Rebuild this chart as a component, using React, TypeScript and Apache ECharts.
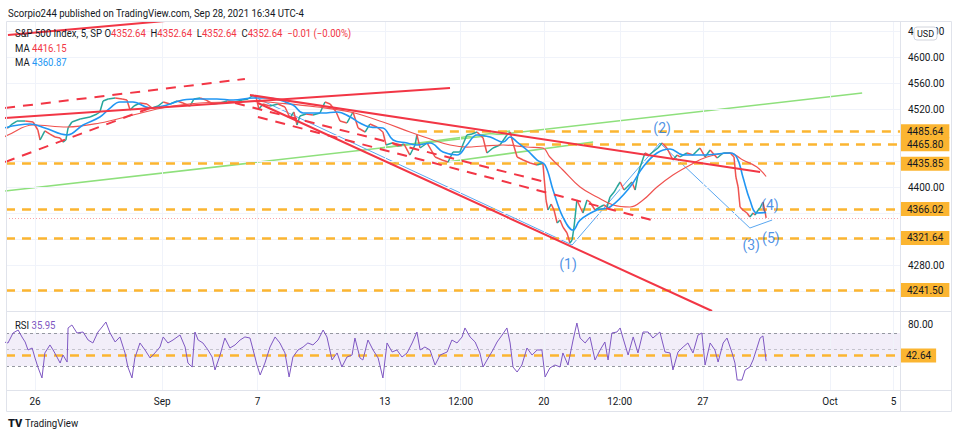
import React, { useEffect, useRef } from 'react';
import * as echarts from 'echarts';

const FONT = 'Roboto, "Liberation Sans", sans-serif';
const RED = '#f23645';
const AMBER = '#fbb531';
const GREEN = '#8ee07c';
const BLUE = '#2196f3';
const PURPLE = '#7e57c2';
const TEXT = '#131722';

// time axis: trading days counted from Aug 26 open
const X_MIN = -0.912;
const X_MAX = 27.2;
const Y_MIN = 4209.23;
const Y_MAX = 4653.85;
const R_MIN = 0.91;
const R_MAX = 95.45;

const timeTicks = [0, 4, 7, 11, 13.385, 16, 18.385, 21, 25, 27];
const timeLabels = ['26', 'Sep', '7', '13', '12:00', '20', '12:00', '27', 'Oct', '5'];
const priceTicks = [4640, 4600, 4560, 4520, 4400, 4280];
const priceGrid = [4640, 4600, 4560, 4520, 4480, 4440, 4400, 4360, 4320, 4280, 4240];
const rsiTicks = [80];

const priceData: number[][] = [
  [-0.97, 4492.3], [-0.85, 4490.8], [-0.72, 4496.9], [-0.57, 4501.5], [-0.31, 4501.5], [-0.06, 4500.0],
  [0.09, 4487.7], [0.16, 4472.3], [0.31, 4486.2], [0.47, 4481.5], [0.63, 4476.9], [0.79, 4475.4],
  [0.88, 4469.2], [0.97, 4472.3], [1.04, 4490.8], [1.16, 4500.0], [1.42, 4504.6], [1.73, 4507.7],
  [1.95, 4512.3], [2.04, 4515.4], [2.14, 4532.3], [2.30, 4535.4], [2.52, 4536.9], [2.74, 4535.4],
  [2.89, 4533.8], [2.99, 4518.5], [3.11, 4524.6], [3.30, 4529.2], [3.52, 4527.7], [3.68, 4521.5],
  [3.87, 4524.6], [4.03, 4530.8], [4.25, 4527.7], [4.47, 4532.3], [4.65, 4529.2], [4.87, 4524.6],
  [5.00, 4535.4], [5.19, 4536.9], [5.38, 4533.8], [5.60, 4527.7], [5.82, 4529.2], [6.04, 4532.3],
  [6.29, 4530.8], [6.51, 4533.8], [6.70, 4535.4], [6.86, 4541.5], [6.95, 4538.5], [7.04, 4520.0],
  [7.17, 4527.7], [7.39, 4524.6], [7.64, 4527.7], [7.86, 4523.1], [8.02, 4506.2], [8.14, 4515.4],
  [8.24, 4495.4], [8.33, 4509.2], [8.52, 4512.3], [8.74, 4510.8], [8.96, 4513.8], [9.12, 4530.8],
  [9.28, 4527.7], [9.47, 4515.4], [9.59, 4501.5], [9.81, 4498.5], [10.00, 4515.4], [10.16, 4490.8],
  [10.38, 4484.6], [10.53, 4496.9], [10.75, 4492.3], [10.94, 4484.6], [11.04, 4464.6], [11.23, 4467.7],
  [11.42, 4463.1], [11.60, 4466.2], [11.79, 4449.2], [11.95, 4464.6], [12.01, 4480.0], [12.11, 4460.0],
  [12.33, 4467.7], [12.58, 4446.2], [12.80, 4441.5], [12.99, 4438.5], [13.14, 4453.8], [13.36, 4453.8],
  [13.58, 4480.0], [13.74, 4481.5], [13.90, 4484.6], [14.09, 4475.4], [14.21, 4452.3], [14.40, 4460.0],
  [14.62, 4464.6], [14.84, 4480.0], [14.94, 4484.6], [15.03, 4467.7], [15.16, 4446.2], [15.35, 4441.5],
  [15.57, 4436.9], [15.79, 4433.8], [15.97, 4436.9], [16.07, 4380.0], [16.13, 4364.6], [16.23, 4373.8],
  [16.32, 4364.6], [16.42, 4344.6], [16.51, 4349.2], [16.60, 4338.5], [16.73, 4329.2], [16.82, 4313.8],
  [16.89, 4318.5], [16.95, 4338.5], [17.04, 4380.0], [17.14, 4369.2], [17.23, 4360.0], [17.36, 4380.0],
  [17.45, 4376.9], [17.61, 4364.6], [17.77, 4369.2], [17.89, 4372.3], [17.99, 4369.2], [18.08, 4384.6],
  [18.21, 4392.3], [18.30, 4400.0], [18.40, 4407.7], [18.52, 4395.4], [18.62, 4400.0], [18.77, 4407.7],
  [18.87, 4395.4], [18.96, 4418.5], [19.03, 4430.8], [19.18, 4452.3], [19.31, 4449.2], [19.43, 4453.8],
  [19.59, 4460.0], [19.72, 4467.7], [19.87, 4460.0], [20.06, 4441.5], [20.19, 4449.2], [20.28, 4446.2],
  [20.50, 4452.3], [20.69, 4449.2], [20.91, 4460.0], [21.07, 4446.2], [21.23, 4456.9], [21.45, 4444.6],
  [21.64, 4452.3], [21.86, 4452.3], [21.98, 4446.2], [22.04, 4415.4], [22.11, 4400.0], [22.17, 4369.2],
  [22.26, 4364.6], [22.39, 4360.0], [22.48, 4353.8], [22.58, 4360.0], [22.64, 4356.9], [22.74, 4364.6],
  [22.80, 4367.7], [22.89, 4376.9], [22.96, 4361.5], [22.99, 4352.64],
];

const maFast: number[][] = [
  [-0.97, 4490.8], [-0.16, 4496.9], [0.31, 4490.8], [1.01, 4480.0], [1.51, 4495.4], [2.04, 4507.7],
  [2.36, 4521.5], [2.67, 4530.8], [3.08, 4530.8], [3.62, 4521.5], [4.15, 4526.2], [4.65, 4533.8],
  [5.19, 4535.4], [5.72, 4535.4], [6.23, 4533.8], [6.86, 4536.9], [7.30, 4536.9], [8.11, 4526.2],
  [8.43, 4513.8], [9.06, 4513.8], [9.50, 4515.4], [9.91, 4507.7], [10.22, 4498.5], [10.53, 4492.3],
  [10.94, 4490.8], [11.26, 4472.3], [11.70, 4467.7], [12.01, 4464.6], [12.42, 4467.7], [12.83, 4453.8],
  [13.27, 4449.2], [13.58, 4464.6], [13.90, 4480.0], [14.31, 4476.9], [14.72, 4469.2], [14.94, 4476.9],
  [15.16, 4469.2], [15.47, 4456.9], [15.79, 4441.5], [16.04, 4433.8], [16.29, 4395.4], [16.60, 4353.8],
  [16.92, 4333.8], [17.14, 4349.2], [17.67, 4364.6], [18.08, 4369.2], [18.71, 4400.0], [19.12, 4430.8],
  [19.56, 4452.3], [19.97, 4458.5], [20.38, 4449.2], [21.01, 4449.2], [21.86, 4452.3], [22.08, 4444.6],
  [22.26, 4415.4], [22.48, 4380.0], [22.70, 4360.0], [22.99, 4360.87],
];

const maSlow: number[][] = [
  [-0.97, 4476.9], [-0.85, 4480.0], [-0.06, 4495.4], [1.01, 4492.3], [2.04, 4498.5], [3.08, 4510.8],
  [4.15, 4523.1], [5.19, 4529.2], [6.23, 4530.8], [6.98, 4532.3], [7.30, 4530.8], [8.87, 4523.1],
  [9.91, 4515.4], [10.94, 4500.0], [11.79, 4484.6], [12.52, 4472.3], [13.05, 4464.6], [13.58, 4461.5],
  [14.09, 4463.1], [14.72, 4464.6], [15.47, 4461.5], [15.97, 4460.0], [16.19, 4446.2], [16.60, 4426.2],
  [17.14, 4400.0], [17.67, 4384.6], [18.18, 4372.3], [18.71, 4369.2], [19.12, 4380.0], [19.56, 4400.0],
  [20.06, 4418.5], [20.60, 4433.8], [21.13, 4446.2], [21.86, 4452.3], [22.26, 4441.5], [22.70, 4430.8],
  [22.99, 4416.15],
];

const rsiData: number[][] = [
  [-0.97, 59.1], [-0.85, 57.9], [-0.69, 70.0], [-0.53, 73.6], [-0.41, 65.2], [-0.31, 59.1], [-0.22, 49.4],
  [-0.09, 51.8], [0.00, 39.7], [0.09, 28.8], [0.22, 15.5], [0.31, 45.8], [0.47, 55.5], [0.57, 49.4],
  [0.69, 40.9], [0.79, 33.6], [0.88, 43.3], [1.01, 34.8], [1.04, 76.1], [1.16, 79.7], [1.32, 70.0],
  [1.51, 71.2], [1.67, 61.5], [1.82, 57.9], [1.98, 71.2], [2.11, 77.3], [2.23, 83.3], [2.36, 70.0],
  [2.52, 59.1], [2.67, 65.2], [2.83, 45.8], [2.92, 28.8], [3.05, 15.5], [3.14, 39.7], [3.30, 57.9],
  [3.46, 49.4], [3.62, 39.7], [3.77, 45.8], [3.93, 53.0], [4.03, 65.2], [4.18, 57.9], [4.34, 61.5],
  [4.56, 67.6], [4.72, 53.0], [4.81, 33.6], [4.94, 28.8], [5.03, 71.2], [5.13, 61.5], [5.28, 57.9],
  [5.44, 49.4], [5.57, 40.9], [5.66, 25.2], [5.82, 43.3], [5.97, 63.9], [6.13, 51.8], [6.29, 55.5],
  [6.45, 61.5], [6.60, 65.2], [6.76, 63.9], [6.86, 49.4], [6.98, 31.2], [7.08, 19.1], [7.23, 33.6],
  [7.39, 53.0], [7.55, 65.2], [7.70, 57.9], [7.86, 45.8], [7.99, 16.7], [8.11, 40.9], [8.27, 49.4],
  [8.43, 53.0], [8.58, 57.9], [8.74, 55.5], [8.90, 61.5], [9.06, 73.6], [9.18, 65.2], [9.34, 37.3],
  [9.50, 45.8], [9.65, 28.8], [9.81, 40.9], [9.97, 43.3], [10.06, 63.9], [10.22, 39.7], [10.31, 37.3],
  [10.47, 61.5], [10.63, 49.4], [10.79, 39.7], [10.94, 15.5], [11.07, 57.9], [11.23, 47.0], [11.38, 49.4],
  [11.54, 40.9], [11.70, 45.8], [11.86, 57.9], [12.01, 71.2], [12.11, 49.4], [12.26, 53.0], [12.42, 49.4],
  [12.58, 31.2], [12.74, 43.3], [12.96, 47.0], [13.11, 61.5], [13.27, 57.9], [13.43, 65.2], [13.52, 76.1],
  [13.68, 65.2], [13.84, 59.1], [13.99, 45.8], [14.09, 28.8], [14.25, 39.7], [14.40, 49.4], [14.53, 59.1],
  [14.69, 67.6], [14.84, 76.1], [14.94, 57.9], [15.03, 28.8], [15.16, 22.7], [15.31, 31.2], [15.47, 51.8],
  [15.63, 43.3], [15.79, 49.4], [15.94, 49.4], [16.04, 16.7], [16.19, 27.6], [16.35, 31.2], [16.51, 28.8],
  [16.60, 45.8], [16.76, 31.2], [16.92, 61.5], [17.04, 82.1], [17.14, 63.9], [17.30, 57.9], [17.45, 65.2],
  [17.61, 37.3], [17.77, 49.4], [17.92, 59.1], [18.02, 37.3], [18.14, 70.0], [18.30, 71.2], [18.40, 76.1],
  [18.49, 63.9], [18.65, 43.3], [18.81, 65.2], [18.96, 45.8], [19.12, 71.2], [19.28, 71.2], [19.43, 63.9],
  [19.65, 71.2], [19.81, 47.0], [19.97, 45.8], [20.06, 25.2], [20.22, 47.0], [20.38, 53.0], [20.53, 57.9],
  [20.69, 45.8], [20.85, 67.6], [20.97, 70.0], [21.07, 31.2], [21.23, 57.9], [21.38, 49.4], [21.48, 34.8],
  [21.64, 57.9], [21.76, 63.9], [21.92, 45.8], [22.01, 33.6], [22.08, 13.0], [22.23, 13.0], [22.33, 25.2],
  [22.48, 28.8], [22.58, 37.3], [22.70, 51.8], [22.80, 63.9], [22.89, 66.4], [22.96, 45.8], [22.99, 35.95],
];

const redSolidLines = [
  [[-0.85, 4633.8], [4.09, 4655.4]],
  [[-0.97, 4506.2], [13.05, 4552.3]],
  [[6.76, 4541.5], [22.8, 4423.1]],
  [[7.01, 4529.2], [21.29, 4209.2]],
];
const redDashedLines = [
  [[-0.94, 4521.5], [6.6, 4566.2]],
  [[-0.94, 4438.5], [3.62, 4521.5]],
  [[6.29, 4529.2], [16.04, 4407.7]],
  [[7.01, 4507.7], [19.5, 4347.7]],
];
const greenLines = [
  [[-0.94, 4393.8], [26.01, 4544.6]],
  [[10.85, 4460.0], [14.94, 4486.2]],
  [[12.96, 4438.5], [17.55, 4469.2]],
];
const waveLine = [[6.76, 4541.5], [16.89, 4310.8], [19.65, 4467.7], [22.48, 4336.9], [23.18, 4349.2]];
const waveLabels = ['(1)', '(2)', '(3)', '(4)', '(5)'];
const waveLabelAt = [[16.76, 4281.5], [19.72, 4490.8], [22.52, 4310.8], [23.11, 4372.3], [23.14, 4321.5]];

const levelPrices = [4485.64, 4465.8, 4435.85, 4366.02, 4321.64, 4241.5];
const levelStarts = [12.04, 15.25, X_MIN, X_MIN, X_MIN, X_MIN];
const rsiLevel = 42.64;
const lastPrice = 4352.64;

const lineSeries = (data: number[][], color: string, width: number, type: any, z: number, xi = 0) => ({
  type: 'line',
  xAxisIndex: xi,
  yAxisIndex: xi,
  data,
  showSymbol: false,
  symbol: 'none',
  silent: true,
  z,
  lineStyle: { color, width, type },
});

const richText = (x: number, y: number, text: string, rich: any, scaleX = 0.91) => ({
  type: 'text', silent: true, z: 100, x, y, scaleX,
  style: {
    text, font: `10.5px ${FONT}`, fill: TEXT, verticalAlign: 'middle', textVerticalAlign: 'middle',
    rich,
  },
});

function buildOption(): any {
  const series: any[] = [];
  series.push({
    type: 'line', xAxisIndex: 0, yAxisIndex: 0, data: [], silent: true, z: 1, clip: false,
    markLine: {
      silent: true, symbol: 'none', label: { show: false },
      lineStyle: { color: '#f0f3fa', width: 1, type: 'solid' },
      data: [...timeTicks.map((t) => ({ xAxis: t })), ...priceGrid.map((p) => ({ yAxis: p }))],
    },
  });
  series.push({
    type: 'line', xAxisIndex: 1, yAxisIndex: 1, data: [], silent: true, z: 1, clip: false,
    markLine: {
      silent: true, symbol: 'none', label: { show: false },
      lineStyle: { color: '#f0f3fa', width: 1, type: 'solid' },
      data: timeTicks.map((t) => ({ xAxis: t })),
    },
  });
  series.push({
    type: 'line', xAxisIndex: 0, yAxisIndex: 0, data: [], silent: true, z: 3, clip: false,
    markLine: {
      silent: true, symbol: 'none',
      lineStyle: { color: AMBER, width: 2.5, type: [9, 7] },
      data: levelPrices.map((p, i) => [
        {
          coord: [levelStarts[i], p],
          label: {
            show: true, position: 'end', distance: 1, formatter: p.toFixed(2),
            backgroundColor: AMBER, color: TEXT, fontSize: 10, fontFamily: FONT, padding: [2, 6, 2, 6],
          },
        },
        { coord: [X_MAX, p] },
      ]),
    },
  });
  series.push({
    type: 'line', xAxisIndex: 0, yAxisIndex: 0, data: [], silent: true, z: 2, clip: false,
    markLine: {
      silent: true, symbol: 'none', label: { show: false },
      lineStyle: { color: 'rgba(242,54,69,0.45)', width: 1, type: [1, 2] },
      data: [{ yAxis: lastPrice }],
    },
  });
  greenLines.forEach((seg) => series.push(lineSeries(seg, GREEN, 1.6, 'solid', 4)));
  series.push(lineSeries(waveLine, '#5aa7f0', 1, 'solid', 4));
  series.push({
    type: 'custom', xAxisIndex: 0, yAxisIndex: 0, data: priceData, clip: true, silent: true, z: 5,
    renderItem: (params: any, api: any) => {
      const i = params.dataIndex;
      if (i === 0) return null;
      const a = api.coord(priceData[i - 1]);
      const b = api.coord([api.value(0), api.value(1)]);
      const up = priceData[i][1] >= priceData[i - 1][1];
      return {
        type: 'line',
        shape: { x1: a[0], y1: a[1], x2: b[0], y2: b[1] },
        style: { stroke: up ? '#26a69a' : '#ef5350', lineWidth: 1.5 },
      };
    },
  });
  series.push({ ...lineSeries(maSlow, '#ef5350', 1.2, 'solid', 6), smooth: 0.4 });
  series.push({ ...lineSeries(maFast, BLUE, 1.6, 'solid', 6), smooth: 0.4 });
  redDashedLines.forEach((seg) => series.push(lineSeries(seg, RED, 2, [10, 8], 7)));
  redSolidLines.forEach((seg) => series.push(lineSeries(seg, RED, 2, 'solid', 7)));
  series.push({
    type: 'scatter', xAxisIndex: 0, yAxisIndex: 0, silent: true, z: 8,
    symbolSize: 1, itemStyle: { color: 'rgba(0,0,0,0)' },
    data: waveLabels.map((n, i) => ({ name: n, value: waveLabelAt[i] })),
    label: { show: true, position: 'inside', formatter: (p: any) => p.name, color: '#1f78de', fontSize: 14, fontFamily: FONT },
  });
  series.push({
    type: 'line', xAxisIndex: 1, yAxisIndex: 1, data: [], silent: true, z: 2, clip: false,
    markArea: {
      silent: true, itemStyle: { color: 'rgba(126,87,194,0.1)' },
      data: [[{ yAxis: 70 }, { yAxis: 30 }]],
    },
    markLine: {
      silent: true, symbol: 'none', label: { show: false },
      data: [
        { yAxis: 70, lineStyle: { color: '#9598a1', width: 1, type: [3, 3] } },
        { yAxis: 30, lineStyle: { color: '#9598a1', width: 1, type: [3, 3] } },
        { yAxis: 50, lineStyle: { color: 'rgba(149,152,161,0.5)', width: 1, type: [3, 3] } },
        {
          yAxis: rsiLevel,
          lineStyle: { color: AMBER, width: 2.5, type: [9, 7] },
          label: {
            show: true, position: 'end', distance: 1, formatter: rsiLevel.toFixed(2),
            backgroundColor: AMBER, color: TEXT, fontSize: 10, fontFamily: FONT, padding: [2, 5, 2, 5],
          },
        },
      ],
    },
  });
  series.push(lineSeries(rsiData, PURPLE, 1, 'solid', 5, 1));

  const rd = { fill: TEXT, font: `10.5px ${FONT}` };
  const graphic: any[] = [
    { type: 'rect', silent: true, z: 100, shape: { x: 6.5, y: 21.5, width: 945, height: 390 }, style: { fill: 'none', stroke: '#e0e3eb', lineWidth: 1 } },
    { type: 'line', silent: true, z: 100, shape: { x1: 900.5, y1: 22, x2: 900.5, y2: 412 }, style: { stroke: '#e0e3eb', lineWidth: 1 } },
    { type: 'line', silent: true, z: 100, shape: { x1: 6, y1: 311.5, x2: 952, y2: 311.5 }, style: { stroke: '#e0e3eb', lineWidth: 1 } },
    { type: 'line', silent: true, z: 100, shape: { x1: 6, y1: 390.5, x2: 952, y2: 390.5 }, style: { stroke: '#e0e3eb', lineWidth: 1 } },
    {
      type: 'text', silent: true, z: 100, x: 8, y: 13, scaleX: 0.915,
      style: { text: 'Scorpio244 published on TradingView.com, Sep 28, 2021 16:34 UTC-4', fill: TEXT, font: `10.5px ${FONT}`, verticalAlign: 'middle', textVerticalAlign: 'middle' },
    },
    richText(15, 33,
      '{d|S&P 500 Index, 5, SP} {d|O}{r|4352.64}  {d|H}{r|4352.64}  {d|L}{r|4352.64}  {d|C}{r|4352.64}  {r|−0.01 (−0.00%)}',
      { d: rd, r: { fill: RED, font: `10.5px ${FONT}` } }),
    richText(15, 48, '{d|MA} {r|4416.15}', { d: rd, r: { fill: RED, font: `10.5px ${FONT}` } }),
    richText(15, 62, '{d|MA} {b|4360.87}', { d: rd, b: { fill: BLUE, font: `10.5px ${FONT}` } }),
    richText(15, 325, '{d|RSI} {p|35.95}', { d: rd, p: { fill: PURPLE, font: `10.5px ${FONT}` } }),
    { type: 'rect', silent: true, z: 100, shape: { x: 914, y: 27, width: 23, height: 13, r: 3 }, style: { fill: '#fff', stroke: '#d1d4dc', lineWidth: 1 } },
    {
      type: 'text', silent: true, z: 101, x: 925.5, y: 33.5,
      style: { text: 'USD', fill: TEXT, font: `9px ${FONT}`, align: 'center', textAlign: 'center', verticalAlign: 'middle', textVerticalAlign: 'middle' },
    },
    {
      type: 'text', silent: true, z: 100, x: 8, y: 423,
      style: { text: 'TV', fill: TEXT, font: `900 11px ${FONT}`, verticalAlign: 'middle', textVerticalAlign: 'middle' },
    },
    {
      type: 'text', silent: true, z: 100, x: 25, y: 423, scaleX: 0.92,
      style: { text: 'TradingView', fill: TEXT, font: `10.5px ${FONT}`, verticalAlign: 'middle', textVerticalAlign: 'middle' },
    },
  ];

  const axisLabelBase = { color: TEXT, fontSize: 10, fontFamily: FONT };

  return {
    animation: false,
    backgroundColor: '#ffffff',
    textStyle: { fontFamily: FONT },
    grid: [
      { left: 6, top: 22, width: 894, height: 289 },
      { left: 6, top: 312, width: 894, height: 78 },
    ],
    xAxis: [
      { gridIndex: 0, type: 'value', min: X_MIN, max: X_MAX, show: false },
      {
        gridIndex: 1, type: 'value', min: X_MIN, max: X_MAX,
        axisLine: { show: false }, axisTick: { show: false }, splitLine: { show: false },
        axisLabel: {
          ...axisLabelBase, margin: 6, customValues: timeTicks,
          formatter: (v: number) => {
            const i = timeTicks.findIndex((t) => Math.abs(t - v) < 1e-6);
            return i >= 0 ? timeLabels[i] : '';
          },
        },
      },
    ],
    yAxis: [
      {
        gridIndex: 0, type: 'value', position: 'right', min: Y_MIN, max: Y_MAX,
        axisLine: { show: false }, axisTick: { show: false }, splitLine: { show: false },
        axisLabel: { ...axisLabelBase, margin: 8, customValues: priceTicks, formatter: (v: number) => v.toFixed(2) },
      },
      {
        gridIndex: 1, type: 'value', position: 'right', min: R_MIN, max: R_MAX,
        axisLine: { show: false }, axisTick: { show: false }, splitLine: { show: false },
        axisLabel: { ...axisLabelBase, margin: 8, customValues: rsiTicks, formatter: (v: number) => v.toFixed(2) },
      },
    ],
    series,
    graphic,
  };
}

export default function App() {
  const ref = useRef<HTMLDivElement>(null);
  useEffect(() => {
    const chart = echarts.init(ref.current!, null, { renderer: 'svg' });
    chart.setOption(buildOption());
    return () => chart.dispose();
  }, []);
  return (
    <div
      ref={ref}
      style={{ position: 'fixed', left: 0, top: 0, width: 960, height: 441, background: '#fff' }}
    />
  );
}
